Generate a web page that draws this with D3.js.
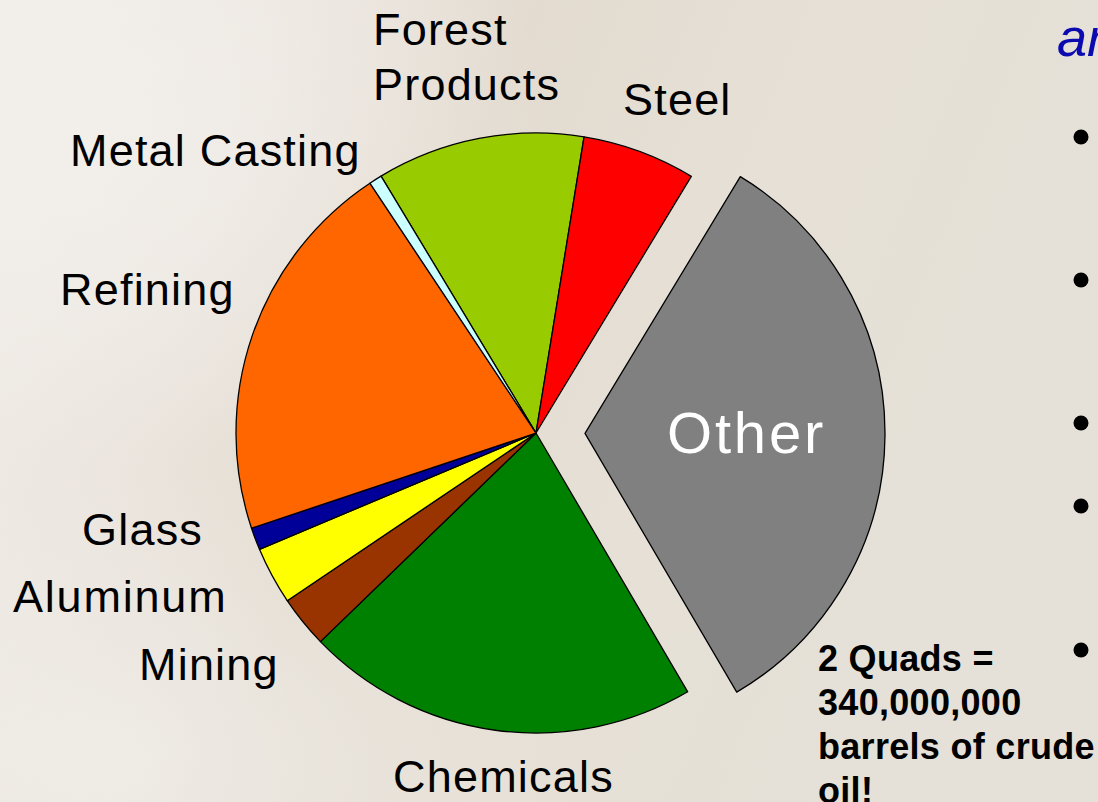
<!DOCTYPE html>
<html><head><meta charset="utf-8">
<script src="https://cdn.jsdelivr.net/npm/d3@7"></script>
<style>html,body{margin:0;padding:0;overflow:hidden;background:#e8e3db} svg{display:block}</style>
</head><body>
<svg id="c" width="1098" height="802"></svg>
<script>
// ---- data (share of industrial energy use, %) ----
const categories = ["Forest Products","Steel","Other","Chemicals","Mining","Aluminum","Glass","Refining","Metal Casting"];
const values = [11.2, 6.1, 32.9, 21.2, 2.8, 3.1, 1.2, 20.8, 0.7];
const colors = ["#99CC00","#FF0000","#808080","#008000","#993300","#FFFF00","#000099","#FF6600","#CCFFFF"];
const explodedSlice = "Other";
const noteLines = ["2 Quads =","340,000,000","barrels of crude","oil!"];
const headingFragment = "ar";
const bulletCount = 5;

// ---- layout ----
const W = 1098, H = 802;
const cx = 536, cy = 433, R = 300, explode = 49;
const startDeg = -31.1;
const labelLayout = {
  "Forest Products": {x: 373, y: 45, lines: ["Forest","Products"], fill: "#000"},
  "Steel": {x: 623, y: 115, lines: ["Steel"], fill: "#000"},
  "Metal Casting": {x: 70, y: 166, lines: ["Metal Casting"], fill: "#000"},
  "Refining": {x: 60, y: 305, lines: ["Refining"], fill: "#000"},
  "Glass": {x: 82, y: 545, lines: ["Glass"], fill: "#000"},
  "Aluminum": {x: 13, y: 612, lines: ["Aluminum"], fill: "#000", ls: 1.8},
  "Mining": {x: 139, y: 680, lines: ["Mining"], fill: "#000"},
  "Chemicals": {x: 393, y: 792, lines: ["Chemicals"], fill: "#000"},
  "Other": {x: 667, y: 453, lines: ["Other"], fill: "#fff", size: 58, ls: 2.8}
};

const svg = d3.select("#c");
const defs = svg.append("defs");
const lg = defs.append("linearGradient").attr("id","bg").attr("x1","0").attr("y1","0").attr("x2","1").attr("y2","0.3");
[["0","#f1eee9"],["0.25","#ebe5de"],["0.45","#e3dbd0"],["0.7","#e6e0d6"],["1","#e5e1d8"]].forEach(s=>lg.append("stop").attr("offset",s[0]).attr("stop-color",s[1]));
const rg = defs.append("radialGradient").attr("id","bg2").attr("cx","0.05").attr("cy","0.15").attr("r","0.45");
rg.append("stop").attr("offset","0").attr("stop-color","#f3f0ec").attr("stop-opacity",0.9);
rg.append("stop").attr("offset","1").attr("stop-color","#f3f0ec").attr("stop-opacity",0);
const rg3 = defs.append("radialGradient").attr("id","bg3").attr("cx","0.1").attr("cy","0.95").attr("r","0.4");
rg3.append("stop").attr("offset","0").attr("stop-color","#f0ede8").attr("stop-opacity",0.9);
rg3.append("stop").attr("offset","1").attr("stop-color","#f0ede8").attr("stop-opacity",0);
svg.append("rect").attr("width",W).attr("height",H).attr("fill","url(#bg)");
svg.append("rect").attr("width",W).attr("height",H).attr("fill","url(#bg2)");
svg.append("rect").attr("width",W).attr("height",H).attr("fill","url(#bg3)");

const data = categories.map((c,i)=>({name:c, value:values[i], color:colors[i]}));
const start = startDeg*Math.PI/180;
const pie = d3.pie().value(d=>d.value).sort(null).startAngle(start).endAngle(start+2*Math.PI);
const arc = d3.arc().innerRadius(0).outerRadius(R);
const arcs = pie(data);

const g = svg.append("g").attr("transform",`translate(${cx},${cy})`);
g.selectAll("path").data(arcs).join("path")
  .attr("d",arc)
  .attr("fill",d=>d.data.color)
  .attr("stroke","#000").attr("stroke-width",1.3).attr("stroke-linejoin","round")
  .attr("transform",d=>{
    if(d.data.name!==explodedSlice) return null;
    const a=(d.startAngle+d.endAngle)/2;
    return `translate(${explode*Math.sin(a)},${-explode*Math.cos(a)})`;
  });

// labels
const font = "'Liberation Sans', Arial, sans-serif";
arcs.forEach(d=>{
  const L = labelLayout[d.data.name];
  const t = svg.append("text").attr("x",L.x).attr("y",L.y)
    .attr("font-family",font).attr("font-size",L.size||45).attr("fill",L.fill)
    .attr("letter-spacing",L.ls!=null?L.ls:1.2);
  L.lines.forEach((ln,i)=>t.append("tspan").attr("x",L.x).attr("dy",i?55:0).text(ln));
});

// note text
const note = svg.append("text").attr("x",818).attr("y",671)
  .attr("font-family",font).attr("font-weight","bold").attr("font-size",36)
  .attr("letter-spacing",0.3).attr("fill","#000");
noteLines.forEach((ln,i)=>note.append("tspan").attr("x",818).attr("dy",i?44:0).text(ln));

// heading fragment
svg.append("text").attr("x",1057).attr("y",56).attr("font-family",font)
  .attr("font-style","italic").attr("font-size",54).attr("fill","#0a0ab0").text(headingFragment);

// bullets
const bulletY = [137, 280, 423, 506, 650];
svg.selectAll("circle.b").data(d3.range(bulletCount)).join("circle").attr("class","b")
  .attr("cx",1081).attr("cy",i=>bulletY[i]).attr("r",7.5).attr("fill","#000");
</script>
</body></html>
